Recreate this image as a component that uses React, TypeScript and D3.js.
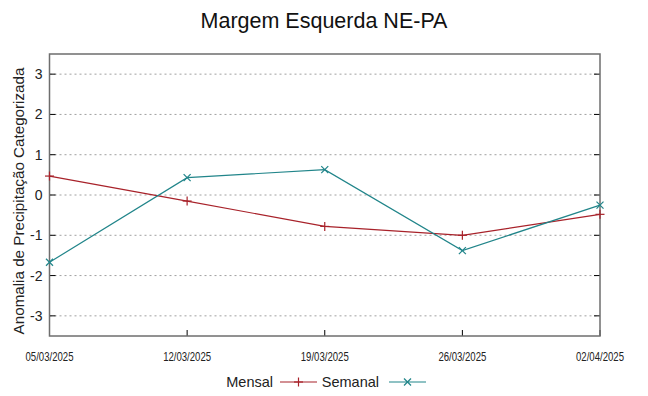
import React, { useEffect, useRef } from "react";
import * as d3 from "d3";

const dates = ["05/03/2025", "12/03/2025", "19/03/2025", "26/03/2025", "02/04/2025"];
const mensal = [0.47, -0.15, -0.78, -1.0, -0.48];
const semanal = [-1.67, 0.43, 0.63, -1.38, -0.25];
const yTicks = [-3, -2, -1, 0, 1, 2, 3];

const RED = "#a8222a";
const TEAL = "#21858a";

const App = () => {
  const ref = useRef<SVGSVGElement>(null);

  useEffect(() => {
    const width = 648;
    const height = 396;
    const margin = { top: 54, right: 48, bottom: 60, left: 49.5 };

    const svg = d3.select(ref.current);
    svg.selectAll("*").remove();
    svg.attr("width", width).attr("height", height).style("font-family", "'Liberation Sans', Arial, sans-serif");

    const parse = d3.timeParse("%d/%m/%Y");
    const pts = dates.map((d) => parse(d) as Date);

    const x = d3.scaleTime().domain([pts[0], pts[pts.length - 1]]).range([margin.left, width - margin.right]);
    const y = d3.scaleLinear().domain([-3.5, 3.5]).range([height - margin.bottom, margin.top]);

    // grid
    svg
      .append("g")
      .selectAll("line")
      .data(yTicks)
      .enter()
      .append("line")
      .attr("x1", margin.left)
      .attr("x2", width - margin.right)
      .attr("y1", (d) => y(d))
      .attr("y2", (d) => y(d))
      .attr("stroke", "#a0a0a0")
      .attr("stroke-width", 1)
      .attr("stroke-dasharray", "2,3");

    // tick marks (inside), left and right
    const tk = svg.append("g").attr("stroke", "#000").attr("stroke-width", 1);
    yTicks.forEach((t) => {
      tk.append("line").attr("x1", margin.left).attr("x2", margin.left + 6).attr("y1", y(t)).attr("y2", y(t));
      tk.append("line").attr("x1", width - margin.right - 6).attr("x2", width - margin.right).attr("y1", y(t)).attr("y2", y(t));
    });
    pts.forEach((p) => {
      tk.append("line").attr("x1", x(p)).attr("x2", x(p)).attr("y1", height - margin.bottom).attr("y2", height - margin.bottom - 6);
    });

    // border
    svg
      .append("rect")
      .attr("x", margin.left)
      .attr("y", margin.top)
      .attr("width", width - margin.right - margin.left)
      .attr("height", height - margin.bottom - margin.top)
      .attr("fill", "none")
      .attr("stroke", "#6e6e6e")
      .attr("stroke-width", 1.5);

    // y tick labels
    svg
      .append("g")
      .selectAll("text")
      .data(yTicks)
      .enter()
      .append("text")
      .attr("x", margin.left - 7)
      .attr("y", (d) => y(d))
      .attr("dy", "0.36em")
      .attr("text-anchor", "end")
      .style("font-size", "14px")
      .attr("fill", "#222")
      .text((d) => String(d));

    // x tick labels
    svg
      .append("g")
      .selectAll("text")
      .data(pts)
      .enter()
      .append("text")
      .attr("x", (d) => x(d))
      .attr("y", height - margin.bottom + 25)
      .attr("text-anchor", "middle")
      .attr("textLength", 48)
      .attr("lengthAdjust", "spacingAndGlyphs")
      .style("font-size", "13.5px")
      .attr("fill", "#222")
      .text((d, i) => dates[i]);

    // title
    svg
      .append("text")
      .attr("x", 324)
      .attr("y", 28)
      .attr("text-anchor", "middle")
      .style("font-size", "21.5px")
      .attr("fill", "#111")
      .text("Margem Esquerda NE-PA");

    // y label
    svg
      .append("text")
      .attr("transform", "translate(24," + 201 + ")rotate(-90)")
      .attr("text-anchor", "middle")
      .style("font-size", "15.2px")
      .attr("fill", "#222")
      .text("Anomalia de Precipitação Categorizada");

    const line = d3
      .line<number>()
      .x((d, i) => x(pts[i]))
      .y((d) => y(d));

    const series = [
      { name: "Mensal", values: mensal, color: RED, mark: "plus" },
      { name: "Semanal", values: semanal, color: TEAL, mark: "cross" },
    ];

    const drawMark = (g: any, cx: number, cy: number, kind: string, color: string) => {
      const s = 4.5;
      if (kind === "plus") {
        g.append("line").attr("x1", cx - s).attr("x2", cx + s).attr("y1", cy).attr("y2", cy).attr("stroke", color);
        g.append("line").attr("x1", cx).attr("x2", cx).attr("y1", cy - s).attr("y2", cy + s).attr("stroke", color);
      } else {
        const c = 3.5;
        g.append("line").attr("x1", cx - c).attr("x2", cx + c).attr("y1", cy - c).attr("y2", cy + c).attr("stroke", color);
        g.append("line").attr("x1", cx - c).attr("x2", cx + c).attr("y1", cy + c).attr("y2", cy - c).attr("stroke", color);
      }
    };

    series.forEach((s) => {
      svg
        .append("path")
        .datum(s.values)
        .attr("d", line)
        .attr("fill", "none")
        .attr("stroke", s.color)
        .attr("stroke-width", 1.2);
      const g = svg.append("g").attr("stroke-width", 1.2);
      s.values.forEach((v, i) => drawMark(g, x(pts[i]), y(v), s.mark, s.color));
    });

    // legend
    const lg = svg.append("g").style("font-size", "14.5px");
    const legendItems = [
      { textEnd: 273, x1: 280, x2: 317 },
      { textEnd: 379, x1: 389, x2: 426 },
    ];
    const ly = 382;
    series.forEach((s, i) => {
      const it = legendItems[i];
      lg.append("text")
        .attr("x", it.textEnd)
        .attr("y", ly)
        .attr("dy", "0.35em")
        .attr("text-anchor", "end")
        .attr("fill", "#222")
        .text(s.name);
      lg.append("line")
        .attr("x1", it.x1)
        .attr("x2", it.x2)
        .attr("y1", ly)
        .attr("y2", ly)
        .attr("stroke", s.color)
        .attr("stroke-width", 1.2);
      const mg = lg.append("g").attr("stroke-width", 1.2);
      drawMark(mg, (it.x1 + it.x2) / 2, ly, s.mark, s.color);
    });
  });

  return (
    <div style={{ position: "absolute", left: 0, top: 0 }}>
      <svg ref={ref}></svg>
    </div>
  );
};

export default App;
